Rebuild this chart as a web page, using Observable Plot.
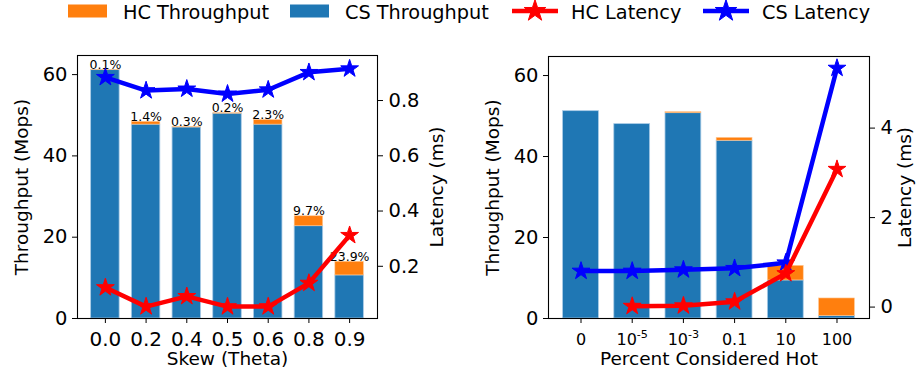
<!DOCTYPE html>
<html><head><meta charset="utf-8">
<script src="https://cdn.jsdelivr.net/npm/d3@7"></script>
<script src="https://cdn.jsdelivr.net/npm/@observablehq/plot@0.6"></script>
<style>
body{margin:0;background:#fff;font-family:"DejaVu Sans",sans-serif;overflow:hidden}
#legend{position:relative;width:921px;height:30px}
#charts{position:relative;width:921px;height:353px}
#charts svg{position:absolute;left:0;top:0}
</style></head><body>
<div id="legend"></div><div id="charts"></div>
<script>
// ---- Data: left panel (Skew) ----
const skewLabels = ["0.0","0.2","0.4","0.5","0.6","0.8","0.9"];
const skewCS = [61.1, 47.7, 47.0, 50.4, 47.7, 22.7, 10.6];
const skewHC = [0.06, 0.68, 0.14, 0.1, 1.12, 2.45, 3.35];
const skewPct = ["0.1%","1.4%","0.3%","0.2%","2.3%","9.7%","23.9%"];
const skewCSLat = [0.884, 0.836, 0.842, 0.824, 0.839, 0.902, 0.915];
const skewHCLat = [0.123, 0.054, 0.091, 0.054, 0.054, 0.139, 0.312];
const skewLatTicks = [0.2, 0.4, 0.6, 0.8];

// ---- Data: right panel (Percent hot) ----
const hotLabels = ["0","10^-5","10^-3","0.1","10","100"];
const hotCS = [51.2, 48.0, 50.7, 43.9, 9.4, 0.6];
const hotHC = [0, 0, 0.25, 0.7, 3.6, 4.35];
const hotCSLat = [0.805, 0.805, 0.835, 0.866, 0.99, 5.34];
const hotHCLat = [null, 0.02, 0.03, 0.12, 0.75, 3.08];
const hotLatTicks = [0, 2, 4];

const throughputTicks = [0, 20, 40, 60];
const BLUE_BAR = "#1f77b4", ORANGE_BAR = "#ff7f0e";
const W = 921, H = 353;
const FONT = "DejaVu Sans";

function superscriptify(svg) {
  d3.select(svg).selectAll("text").each(function() {
    const t = this.textContent;
    const m = /^(\d+)\^(.+)$/.exec(t);
    if (!m) return;
    const el = d3.select(this);
    el.text(null);
    el.append("tspan").text(m[1]);
    el.append("tspan").attr("dy", "-0.62em").attr("font-size", "0.7em").text(m[2]);
  });
}

function panel(cfg) {
  const n = cfg.labels.length;
  const rows = cfg.labels.map((l, i) => ({
    i, label: l, cs: cfg.cs[i], hc: cfg.hc[i], total: cfg.cs[i] + cfg.hc[i],
    pct: cfg.pct ? cfg.pct[i] : null, csLat: cfg.csLat[i], hcLat: cfg.hcLat[i]
  }));
  const hw = 0.35;
  const m = 0.05 * (n - 1 + 2 * hw);
  const xDomain = [-hw - m, n - 1 + hw + m];
  const base = {width: W, height: H, ...cfg.margins,
    style: {background: "transparent", fontFamily: FONT, overflow: "visible"}};

  const bars = Plot.plot({...base,
    x: {domain: xDomain, axis: null},
    y: {domain: [0, cfg.yMax], axis: null},
    marks: [
      Plot.rectY(rows, {x1: d => d.i - hw, x2: d => d.i + hw, y1: 0, y2: "cs",
        fill: BLUE_BAR, stroke: "#a9cbe6", strokeWidth: 0.8}),
      Plot.rectY(rows.filter(d => d.hc > 0), {x1: d => d.i - hw, x2: d => d.i + hw, y1: "cs", y2: "total",
        fill: ORANGE_BAR, stroke: "#ffc894", strokeWidth: 0.6}),
      cfg.pct ? Plot.text(rows, {x: "i", y: "total", text: "pct", dy: -1, lineAnchor: "bottom",
        fontSize: 12.5, fill: "black"}) : null,
      Plot.frame({stroke: "black", strokeWidth: 1.1}),
      Plot.axisX({ticks: rows.map(d => d.i), tickFormat: i => cfg.labels[i], tickSize: 5,
        tickPadding: cfg.xTickPad, fontSize: cfg.xTickFont, label: null}),
      Plot.axisY({ticks: throughputTicks, tickSize: 5, tickPadding: 5, fontSize: 19.5, label: null}),
      Plot.text(["Throughput (Mops)"], {frameAnchor: "left", dx: -55, rotate: -90,
        textAnchor: "middle", lineAnchor: "middle", fontSize: 18.5}),
      Plot.text([cfg.xTitle], {frameAnchor: "bottom", dy: 41, textAnchor: "middle",
        lineAnchor: "middle", fontSize: 18.5})
    ]
  });
  superscriptify(bars);

  const lines = Plot.plot({...base,
    x: {domain: xDomain, axis: null},
    y: {domain: cfg.latDomain, axis: null},
    marks: [
      Plot.line(rows, {x: "i", y: "csLat", stroke: "blue", strokeWidth: 4.5}),
      Plot.dot(rows, {x: "i", y: "csLat", symbol: "star", r: 5.6, fill: "blue", stroke: "blue", strokeWidth: 1}),
      Plot.line(rows, {x: "i", y: "hcLat", stroke: "red", strokeWidth: 4.5}),
      Plot.dot(rows, {x: "i", y: "hcLat", symbol: "star", r: 5.6, fill: "red", stroke: "red", strokeWidth: 1}),
      Plot.axisY({anchor: "right", ticks: cfg.latTicks, tickFormat: cfg.latFormat,
        tickSize: 5, tickPadding: 6, fontSize: 19.5, label: null}),
      Plot.text(["Latency (ms)"], {frameAnchor: "right", dx: cfg.latLabelDx, rotate: -90,
        textAnchor: "middle", lineAnchor: "middle", fontSize: 18.5})
    ]
  });
  document.getElementById("charts").append(bars, lines);
}

panel({labels: skewLabels, cs: skewCS, hc: skewHC, pct: skewPct, csLat: skewCSLat, hcLat: skewHCLat,
  yMax: 64.7, latDomain: [0.011, 0.963], latTicks: skewLatTicks, latFormat: d => d.toFixed(1),
  xTitle: "Skew (Theta)", xTickFont: 20, xTickPad: 8, latLabelDx: 60,
  margins: {marginLeft: 77, marginRight: W - 377, marginTop: 25, marginBottom: H - 288}});

panel({labels: hotLabels, cs: hotCS, hc: hotHC, pct: null, csLat: hotCSLat, hcLat: hotHCLat,
  yMax: 64.7, latDomain: [-0.255, 5.6], latTicks: hotLatTicks, latFormat: d => String(d),
  xTitle: "Percent Considered Hot", xTickFont: 16, xTickPad: 10, latLabelDx: 36,
  margins: {marginLeft: 548, marginRight: W - 869, marginTop: 26, marginBottom: H - 288}});

// ---- Legend ----
const legendItems = [
  {label: "HC Throughput", kind: "patch", color: ORANGE_BAR, x: 68},
  {label: "CS Throughput", kind: "patch", color: BLUE_BAR, x: 290},
  {label: "HC Latency", kind: "line", color: "red", x: 512},
  {label: "CS Latency", kind: "line", color: "blue", x: 703}
];
const lsvg = d3.select("#legend").append("svg").attr("width", W).attr("height", 30)
  .style("font-family", FONT);
const star = d3.symbol(d3.symbolStar, Math.PI * 6.8 * 6.8)();
for (const it of legendItems) {
  const g = lsvg.append("g").attr("transform", `translate(${it.x},0)`);
  if (it.kind === "patch") {
    g.append("rect").attr("x", 0).attr("y", 4.5).attr("width", 39).attr("height", 13).attr("fill", it.color);
  } else {
    g.append("line").attr("x1", 0).attr("x2", 46).attr("y1", 11).attr("y2", 11)
      .attr("stroke", it.color).attr("stroke-width", 4.5);
    g.append("path").attr("d", star).attr("transform", "translate(23,11)")
      .attr("fill", it.color).attr("stroke", it.color);
  }
  g.append("text").attr("x", it.kind === "patch" ? 55 : 59).attr("y", 18.5)
    .attr("font-size", 19.3).attr("fill", "black").text(it.label);
}
</script>
</body></html>
